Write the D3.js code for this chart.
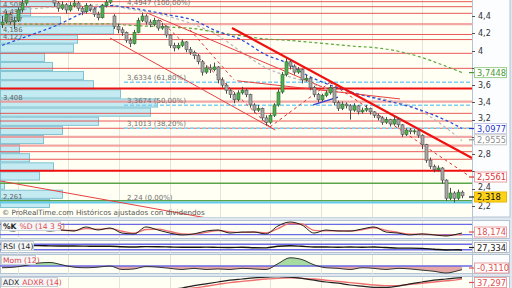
<!DOCTYPE html>
<html>
<head>
<meta charset="utf-8">
<script src="https://cdn.jsdelivr.net/npm/d3@7"></script>
<style>
  body { margin: 0; background: #dfe7ef; }
  svg { display: block; }
  text { font-family: "DejaVu Sans", sans-serif; }
</style>
</head>
<body>
<svg id="chart" width="512" height="288"></svg>
<script>
// Price candles [open, high, low, close], one per bar
const candles = [
  [4.30,4.40,4.26,4.33],[4.33,4.46,4.31,4.42],[4.42,4.44,4.30,4.33],[4.33,4.39,4.25,4.35],
  [4.35,4.50,4.33,4.47],[4.47,4.60,4.44,4.55],[4.55,4.68,4.52,4.64],[4.64,4.74,4.61,4.70],
  [4.70,4.77,4.66,4.72],[4.72,4.75,4.64,4.68],[4.68,4.76,4.66,4.72],[4.72,4.74,4.65,4.67],
  [4.67,4.69,4.59,4.62],[4.62,4.64,4.51,4.55],[4.55,4.57,4.45,4.49],[4.49,4.57,4.47,4.53],
  [4.53,4.55,4.43,4.47],[4.47,4.56,4.45,4.52],[4.52,4.60,4.50,4.55],[4.55,4.57,4.46,4.49],
  [4.49,4.51,4.41,4.45],[4.45,4.55,4.43,4.52],[4.52,4.54,4.45,4.48],[4.48,4.50,4.39,4.42],
  [4.42,4.45,4.35,4.38],[4.38,4.54,4.37,4.52],[4.52,4.60,4.50,4.56],[4.56,4.66,4.54,4.61],
  [4.40,4.42,4.25,4.28],[4.28,4.31,4.20,4.24],[4.24,4.27,4.17,4.21],[4.21,4.22,4.09,4.12],
  [4.12,4.15,4.04,4.08],[4.08,4.24,4.07,4.21],[4.21,4.38,4.20,4.35],[4.35,4.44,4.33,4.40],
  [4.40,4.42,4.30,4.33],[4.33,4.36,4.27,4.30],[4.30,4.38,4.28,4.35],[4.35,4.36,4.23,4.26],
  [4.26,4.32,4.24,4.28],[4.28,4.29,4.15,4.18],[4.18,4.19,4.03,4.06],[4.06,4.09,3.99,4.03],
  [4.03,4.09,4.01,4.06],[4.06,4.13,4.04,4.10],[4.10,4.11,3.98,4.01],[4.01,4.04,3.95,3.98],
  [3.98,4.00,3.90,3.94],[3.94,3.96,3.84,3.87],[3.87,3.89,3.71,3.75],[3.75,3.83,3.73,3.80],
  [3.80,3.84,3.74,3.78],[3.78,3.86,3.76,3.81],[3.81,3.82,3.62,3.66],[3.66,3.69,3.57,3.60],
  [3.60,3.62,3.50,3.54],[3.54,3.56,3.45,3.49],[3.49,3.51,3.39,3.43],[3.43,3.54,3.41,3.51],
  [3.51,3.58,3.49,3.54],[3.54,3.56,3.46,3.49],[3.49,3.50,3.34,3.37],[3.37,3.39,3.28,3.31],
  [3.31,3.37,3.29,3.33],[3.33,3.34,3.19,3.22],[3.22,3.25,3.13,3.17],[3.17,3.27,3.15,3.25],
  [3.25,3.39,3.23,3.37],[3.37,3.55,3.35,3.52],[3.52,3.75,3.50,3.72],[3.72,3.91,3.70,3.87],
  [3.87,3.89,3.78,3.82],[3.82,3.84,3.72,3.75],[3.75,3.81,3.73,3.78],[3.78,3.79,3.62,3.66],
  [3.66,3.72,3.64,3.68],[3.68,3.69,3.54,3.57],[3.57,3.59,3.46,3.49],[3.49,3.51,3.40,3.43],
  [3.43,3.50,3.41,3.48],[3.48,3.54,3.46,3.51],[3.51,3.60,3.49,3.57],[3.57,3.58,3.37,3.40],
  [3.40,3.42,3.30,3.33],[3.33,3.41,3.31,3.38],[3.38,3.40,3.33,3.36],[3.36,3.38,3.20,3.31],
  [3.31,3.39,3.29,3.36],[3.36,3.37,3.26,3.29],[3.29,3.34,3.27,3.31],[3.31,3.37,3.29,3.33],
  [3.33,3.34,3.26,3.29],[3.29,3.30,3.22,3.25],[3.25,3.27,3.19,3.22],[3.22,3.24,3.14,3.17],
  [3.17,3.23,3.15,3.20],[3.20,3.21,3.12,3.15],[3.15,3.24,3.13,3.20],[3.20,3.22,3.11,3.14],
  [3.14,3.15,3.00,3.03],[3.03,3.10,3.01,3.08],[3.08,3.10,3.03,3.06],[3.06,3.09,3.03,3.07],
  [3.07,3.08,2.99,3.02],[3.02,3.03,2.86,2.91],[2.91,2.92,2.70,2.73],[2.73,2.76,2.63,2.66],
  [2.66,2.68,2.59,2.62],[2.62,2.67,2.60,2.64],[2.64,2.65,2.46,2.50],[2.50,2.51,2.26,2.29],
  [2.29,2.41,2.27,2.35],[2.35,2.37,2.24,2.29],[2.29,2.39,2.27,2.36],[2.36,2.38,2.29,2.318]
];

// Horizontal support / resistance levels
const levelThin = [4.566, 4.508, 4.431, 4.186, 4.127, 3.968, 3.794, 3.273, 3.184, 3.10, 2.829, 2.741];
const levelSoft = [4.307, 3.408, 3.0, 2.90];
const levelStrong = [3.56, 2.609];
const levelGreen = [2.463, 2.261];
const levelCyan = [2.24];
const levelTags = ['4,508', '4,431', '4,307', '4,186', '4,127', '3,408', '2,261'];
const levelTagPrices = [4.508, 4.431, 4.307, 4.186, 4.127, 3.408, 2.261];

// Fibonacci retracement
const fibPrices = [4.4947, 3.6334, 3.3674, 3.1013, 2.24];
const fibTags = ['4,4947 (100,00%)', '3,6334 (61,80%)', '3,3674 (50,00%)', '3,1013 (38,20%)', '2,24 (0,00%)'];
const fibStart = 30.5;

// Volume by price (bins from the bottom up)
const profileBase = 2.177;
const profileStep = 0.1057;
const profileVol = [490, 620, 40, 390, 530, 290, 190, 430, 620, 980, 1500, 1570, 1200, 930, 830, 520, 440, 730, 770, 1130, 600, 300, 550];

// Moving averages, sampled at bar indices
const maIdx = [0, 12, 27, 31, 42, 48, 53, 60, 66, 71, 76, 82, 88, 94, 102, 112, 115];
const maBlue = [4.06, 4.26, 4.52, 4.50, 4.41, 4.35, 4.24, 4.12, 3.95, 3.86, 3.72, 3.60, 3.51, 3.44, 3.35, 3.17, 3.0977];
const maGreen = [4.307, 4.307, 4.31, 4.296, 4.27, 4.255, 4.215, 4.17, 4.134, 4.12, 4.10, 4.076, 4.05, 4.03, 3.96, 3.80, 3.7448];
const maGray = [4.45, 4.50, 4.53, 4.49, 4.39, 4.30, 4.20, 3.98, 3.80, 3.71, 3.64, 3.54, 3.50, 3.45, 3.36, 3.07, 2.9555];

// Trend lines: [barFrom, priceFrom, barTo, priceTo]
const trendThick = [[57.5, 4.26, 117.5, 2.755]];
const trendThin = [
  [27.0, 4.145, 68.3, 3.08],
  [36.3, 4.435, 80.0, 3.58],
  [58.8, 3.65, 99.5, 3.44],
  [-0.5, 2.49, 55.0, 2.03]
];
const trendDashed = [
  [39.5, 4.354, 67.0, 3.115],
  [67.0, 3.115, 82.0, 3.63],
  [82.0, 3.63, 116.5, 2.5561],
  [47.0, 4.24, 58.0, 3.66]
];
const trendBlue = [[77.8, 3.37, 84.0, 3.46]];

// Right axis
const priceTicks = [2.2, 2.4, 2.6, 2.8, 3.0, 3.2, 3.4, 3.6, 3.8, 4.0, 4.2, 4.4];
const gridIdx = [4, 16.6, 29.2, 41.9, 54.5, 67.1, 79.8, 92.4, 105];
const lastTags = ['3,7448', '3,0977', '2,9555', '2,5561', '2,318'];
const lastTagPrices = [3.7448, 3.0977, 2.9555, 2.5561, 2.318];

// Indicators, sampled at bar indices
const oscIdx = [0,3,6,9,12,15,18,21,24,27,30,33,36,39,42,45,48,51,54,57,60,63,66,69,72,75,78,81,84,87,90,93,96,99,102,105,108,111,114,115];
const stochK = [53,41,65,53,41,47,41,65,47,59,29,24,65,47,29,18,24,41,47,29,35,35,24,71,94,76,29,47,41,41,53,65,35,29,18,24,18,12,24,29];
const stochD = [50,45,55,55,47,45,44,55,52,55,40,28,50,52,38,24,22,33,44,36,33,35,30,55,85,82,45,42,43,41,48,60,45,33,22,22,20,15,20,18.174];
const rsi = [58,58,60,60,58,57,57,56,55,56,52,50,53,52,50,48,48,49,47,46,48,45,44,55,59,55,50,50,48,50,48,50,46,42,42,40,34,28,30,27.334];
const mom = [-0.15,-0.1,0.05,0.25,0.3,0.1,-0.1,-0.15,-0.1,0.0,-0.3,-0.25,-0.05,-0.1,-0.2,-0.3,-0.2,-0.3,-0.25,-0.3,-0.2,-0.25,-0.3,0.2,0.7,0.55,0.1,-0.15,-0.2,-0.3,-0.15,-0.2,-0.3,-0.2,-0.25,-0.35,-0.45,-0.6,-0.4,-0.311];
const adx = [18,17,16,15,14,14,13,13,14,15,15,16,16,17,18,20,24,27,30,33,35,37,38,39,38,36,33,30,28,25,23,21,21,23,27,30,33,35,37,37.297];
const adxr = [17,17,17,16,15,15,14,14,14,14,15,15,15,16,17,18,20,23,26,29,31,33,35,36,37,36,35,33,31,29,27,25,24,24,26,28,30,32,34,35];

const fmt = v => String(v).replace('.', ',');

const svg = d3.select('#chart');
const plotR = 472;
const mainB = 217;

const x = d3.scaleLinear().domain([0, 115]).range([2, 462]);
const y = d3.scaleLinear().domain([2.2, 4.4]).range([206, 16]);

const defs = svg.append('defs');
function clip(id, top, bottom) {
    defs.append('clipPath').attr('id', id)
        .append('rect').attr('x', 0).attr('y', top).attr('width', plotR).attr('height', bottom - top);
}
clip('cMain', 0, mainB);

// Main panel background
svg.append('rect').attr('x', 0).attr('y', -1).attr('width', 510).attr('height', mainB + 1)
    .attr('fill', '#fbfdff').attr('stroke', '#b4c4d4');
svg.append('rect').attr('x', 0).attr('y', 0).attr('width', plotR).attr('height', mainB)
    .attr('fill', '#fffff3');

const g = svg.append('g').attr('clip-path', 'url(#cMain)');

// Vertical grid
g.selectAll('.vgrid').data(gridIdx).enter().append('line')
    .attr('x1', d => Math.round(x(d)) + 0.5).attr('x2', d => Math.round(x(d)) + 0.5)
    .attr('y1', 0).attr('y2', mainB)
    .attr('stroke', '#e4e4da');

// Volume by price histogram
const pw = d3.scaleLinear().domain([0, d3.max(profileVol)]).range([0, 157]);
g.selectAll('.vbp').data(profileVol).enter().append('rect')
    .attr('x', 0.5)
    .attr('y', (d, i) => y(profileBase + (i + 1) * profileStep) + 0.5)
    .attr('width', d => pw(d))
    .attr('height', (d, i) => y(profileBase + i * profileStep) - y(profileBase + (i + 1) * profileStep) - 1)
    .attr('fill', '#c4ebf2').attr('stroke', '#80c2d2').attr('stroke-width', 1);

// Horizontal levels
function hlines(data, color, width, opacity, x0) {
    g.selectAll(null).data(data).enter().append('line')
        .attr('x1', x0 || 0).attr('x2', plotR)
        .attr('y1', d => y(d)).attr('y2', d => y(d))
        .attr('stroke', color).attr('stroke-width', width).attr('opacity', opacity);
}
hlines(levelThin, '#e84848', 1, 0.9);
hlines(levelSoft, '#f08a8a', 2.2, 0.75);
hlines(levelStrong, '#f01010', 2, 1);
hlines(levelGreen, '#5aa54a', 1.4, 1);
hlines(levelCyan, '#66ccee', 2, 1);

// Fibonacci lines
g.selectAll('.fib').data(fibPrices.slice(1, 4)).enter().append('line')
    .attr('x1', x(fibStart)).attr('x2', plotR)
    .attr('y1', d => y(d)).attr('y2', d => y(d))
    .attr('stroke', '#7fd0f0').attr('stroke-width', 1.5).attr('stroke-dasharray', '4,2');

// Moving averages
function maLine(vals, color, width) {
    const line = d3.line().x((d, i) => x(maIdx[i])).y(d => y(d)).curve(d3.curveMonotoneX);
    g.append('path').datum(vals).attr('d', line)
        .attr('fill', 'none').attr('stroke', color).attr('stroke-width', width)
        .attr('stroke-dasharray', '3,2.5');
}
maLine(maGray, '#b8b8b8', 1.2);
maLine(maGreen, '#5da83c', 1.2);
maLine(maBlue, '#2e4fd6', 1.3);

// Trend lines
function trend(data, color, width, dash) {
    g.selectAll(null).data(data).enter().append('line')
        .attr('x1', d => x(d[0])).attr('y1', d => y(d[1]))
        .attr('x2', d => x(d[2])).attr('y2', d => y(d[3]))
        .attr('stroke', color).attr('stroke-width', width)
        .attr('stroke-dasharray', dash || null);
}
trend(trendThin, '#e84040', 1);
trend(trendDashed, '#e03030', 1, '3,3');
trend(trendBlue, '#3040d8', 1.4);
trend(trendThick, '#f01010', 2.2);

// Candles
const cw = 3;
const cg = g.selectAll('.candle').data(candles).enter().append('g');
cg.append('line')
    .attr('x1', (d, i) => Math.round(x(i)) + 0.5).attr('x2', (d, i) => Math.round(x(i)) + 0.5)
    .attr('y1', d => y(d[1])).attr('y2', d => y(d[2]))
    .attr('stroke', '#4a4a4a');
cg.append('rect')
    .attr('x', (d, i) => Math.round(x(i)) - 1)
    .attr('y', d => y(Math.max(d[0], d[3])))
    .attr('width', cw)
    .attr('height', d => Math.max(1, Math.abs(y(d[0]) - y(d[3]))))
    .attr('fill', d => d[3] >= d[0] ? '#4fae4f' : '#a8a8a8')
    .attr('stroke', d => d[3] >= d[0] ? '#2f6f2f' : '#555')
    .attr('stroke-width', 0.6);

// Level tags on the left (kept inside the panel and apart from each other)
const tagBase = levelTagPrices.map(p => y(p) - 2);
tagBase[0] = Math.max(tagBase[0], 6.5);
for (let i = 1; i < tagBase.length; i++) {
    tagBase[i] = Math.max(tagBase[i], tagBase[i - 1] + 7);
}
g.selectAll('.ltag').data(levelTags).enter().append('text')
    .attr('x', 3).attr('y', (d, i) => tagBase[i])
    .attr('font-size', 6.8).attr('fill', '#666').text(d => d);

// Fibonacci tags
g.selectAll('.ftag').data(fibTags).enter().append('text')
    .attr('x', x(fibStart) + 3).attr('y', (d, i) => y(fibPrices[i]) - 2.5)
    .attr('font-size', 7).attr('fill', '#707070').text(d => d);

// Copyright line
svg.append('text').attr('x', 2).attr('y', 215).attr('font-size', 7.2).attr('fill', '#555')
    .text('© ProRealTime.com  Históricos ajustados con dividendos');

// Right price axis
const tagY = [72.6, 128.5, 139.8, 177, 197];
const shownTicks = priceTicks.filter(t => tagY.every(ty => Math.abs(y(t) - ty) >= 7));
const tickLabelY = t => {
    let ly = y(t) + 3;
    tagY.forEach(ty => {
        const dist = ty - y(t);
        if (dist >= 7 && dist < 10.5) ly -= (10.5 - dist);
    });
    return ly;
};
svg.append('line').attr('x1', plotR + 0.5).attr('x2', plotR + 0.5).attr('y1', 0).attr('y2', 288)
    .attr('stroke', '#b4c4d4');
svg.selectAll('.ptick').data(priceTicks).enter().append('line')
    .attr('x1', plotR).attr('x2', plotR + 3)
    .attr('y1', d => Math.round(y(d)) + 0.5).attr('y2', d => Math.round(y(d)) + 0.5)
    .attr('stroke', '#555');
svg.selectAll('.plabel').data(shownTicks).enter().append('text')
    .attr('x', 478).attr('y', d => tickLabelY(d))
    .attr('font-size', 8).attr('fill', '#333').text(d => fmt(d));

// Last value tags
const tagStyle = [
    { fill: '#fff', stroke: '#9ccf8c', text: '#4c9a34' },
    { fill: '#fff', stroke: '#c8cce8', text: '#2a38c8' },
    { fill: '#fff', stroke: '#c8c8c8', text: '#909090' },
    { fill: '#fff', stroke: '#eca0a0', text: '#e03434' },
    { fill: '#ffd21a', stroke: '#e8b800', text: '#111' }
];
function valueTag(label, cy, st, w) {
    svg.append('line').attr('x1', plotR - 3).attr('x2', plotR + 3)
        .attr('y1', cy).attr('y2', cy).attr('stroke', st.text).attr('stroke-width', 1.2);
    svg.append('rect').attr('x', 474.5).attr('y', cy - 5).attr('width', w).attr('height', 10)
        .attr('fill', st.fill).attr('stroke', st.stroke);
    svg.append('text').attr('x', 477).attr('y', cy + 3.2)
        .attr('font-size', 8.3).attr('fill', st.text).text(label);
}
lastTags.forEach((t, i) => valueTag(t, tagY[i], tagStyle[i], 32));

// Indicator panels
function panel(id, top, bottom) {
    svg.append('rect').attr('x', 0.5).attr('y', top + 0.5).attr('width', 509).attr('height', bottom - top)
        .attr('fill', '#fbfdff').attr('stroke', '#b4c4d4');
    svg.append('rect').attr('x', 1).attr('y', top + 1).attr('width', plotR - 1).attr('height', bottom - top - 1)
        .attr('fill', '#fffff3');
    svg.append('line').attr('x1', plotR + 0.5).attr('x2', plotR + 0.5).attr('y1', top).attr('y2', bottom + 1)
        .attr('stroke', '#b4c4d4');
    clip(id, top + 1, bottom + 1);
    const pg = svg.append('g').attr('clip-path', `url(#${id})`);
    pg.selectAll(null).data(gridIdx).enter().append('line')
        .attr('x1', d => Math.round(x(d)) + 0.5).attr('x2', d => Math.round(x(d)) + 0.5)
        .attr('y1', top).attr('y2', bottom + 1).attr('stroke', '#e4e4da');
    return pg;
}
function oscLine(pg, sc, vals, color, width) {
    pg.append('path').datum(vals)
        .attr('d', d3.line().x((d, i) => x(oscIdx[i])).y(d => sc(d)).curve(d3.curveMonotoneX))
        .attr('fill', 'none').attr('stroke', color).attr('stroke-width', width);
}
function bands(pg, sc, vals) {
    pg.selectAll(null).data(vals).enter().append('line')
        .attr('x1', 0).attr('x2', plotR)
        .attr('y1', d => sc(d)).attr('y2', d => sc(d))
        .attr('stroke', '#6a6ae6').attr('stroke-width', 1.3);
}
function header(parts, top, w) {
    svg.append('rect').attr('x', 1.5).attr('y', top + 1.5).attr('width', w).attr('height', 9)
        .attr('fill', '#f4f6f8').attr('stroke', '#c8d0d8');
    let cx = 3;
    parts.forEach(p => {
        const t = svg.append('text').attr('x', cx).attr('y', top + 9)
            .attr('font-size', 7.6).attr('fill', p.color).attr('font-weight', p.bold ? 'bold' : null)
            .text(p.text);
        cx += t.node().getComputedTextLength() + 3;
    });
}

// Stochastic
const sStoch = d3.scaleLinear().domain([0, 100]).range([238, 221]);
const pStoch = panel('cStoch', 220, 238);
bands(pStoch, sStoch, [20, 80]);
oscLine(pStoch, sStoch, stochD, '#f07070', 1.4);
oscLine(pStoch, sStoch, stochK, '#222', 1);
header([{ text: '%K', color: '#222', bold: true }, { text: '%D (14 3 5)', color: '#e04848' }], 220, 59);
valueTag('18,174', 232, { fill: '#fff', stroke: '#eca0a0', text: '#e05050' }, 32);

// RSI
const sRsi = d3.scaleLinear().domain([10, 90]).range([252.5, 241.5]);
const pRsi = panel('cRsi', 240, 252);
bands(pRsi, sRsi, [30, 70]);
oscLine(pRsi, sRsi, rsi, '#111', 1.4);
header([{ text: 'RSI (14)', color: '#222' }], 240, 32);
valueTag('27,334', 247.5, { fill: '#fff', stroke: '#b8b8b8', text: '#222' }, 32);

// Momentum
const sMom = d3.scaleLinear().domain([-0.7, 0.7]).range([274.2, 257.8]);
const pMom = panel('cMom', 254, 273);
pMom.append('path').datum(mom)
    .attr('d', d3.area().x((d, i) => x(oscIdx[i])).y0(sMom(0)).y1(d => sMom(Math.max(0, d))).curve(d3.curveMonotoneX))
    .attr('fill', '#a6dca0');
pMom.append('path').datum(mom)
    .attr('d', d3.area().x((d, i) => x(oscIdx[i])).y0(sMom(0)).y1(d => sMom(Math.min(0, d))).curve(d3.curveMonotoneX))
    .attr('fill', '#e6a8a4');
bands(pMom, sMom, [0]);
oscLine(pMom, sMom, mom, '#333', 1);
header([{ text: 'Mom (12)', color: '#e04848' }], 254, 34);
valueTag('-0,3110', 268, { fill: '#fff', stroke: '#eca0a0', text: '#e05050' }, 34);

// ADX
const sAdx = d3.scaleLinear().domain([0, 60]).range([300, 264]);
const pAdx = panel('cAdx', 276, 292);
oscLine(pAdx, sAdx, adxr, '#f07070', 1.4);
oscLine(pAdx, sAdx, adx, '#222', 1.2);
header([{ text: 'ADX', color: '#222' }, { text: 'ADXR (14)', color: '#e04848' }], 276, 56);
valueTag('37,297', 282.5, { fill: '#fff', stroke: '#eca0a0', text: '#e05050' }, 32);
</script>
</body>
</html>
